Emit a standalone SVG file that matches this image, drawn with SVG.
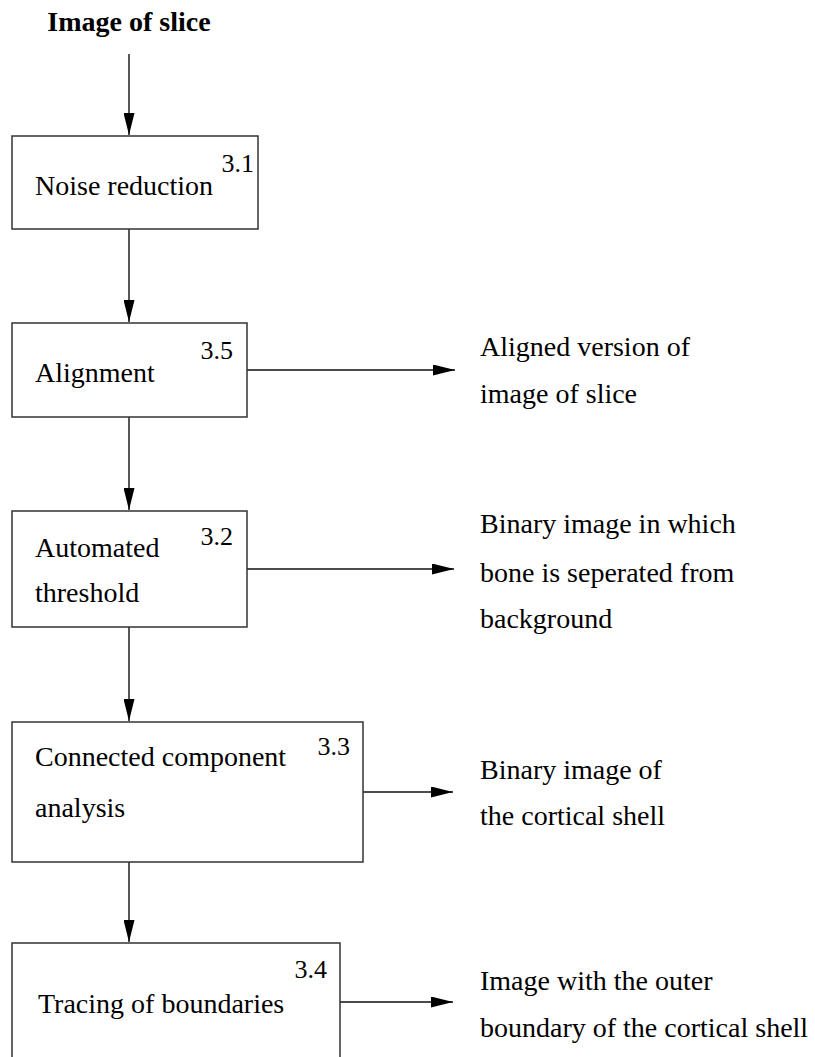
<svg xmlns="http://www.w3.org/2000/svg" width="815" height="1057" viewBox="0 0 815 1057">
  <style>
    .box { fill: #ffffff; stroke: #333333; stroke-width: 1.5; }
    .wire { stroke: #111111; stroke-width: 1.4; fill: none; }
    .lbl { font-family: "Liberation Serif", "Times New Roman", serif; font-size: 28px; fill: #000000; }
    .num { font-family: "Liberation Serif", "Times New Roman", serif; font-size: 26px; fill: #000000; }
    .title { font-family: "Liberation Serif", "Times New Roman", serif; font-size: 28px; font-weight: bold; fill: #000000; }
  </style>
  <defs>
    <marker id="arrow" viewBox="0 0 22 11" refX="22" refY="5.5" markerWidth="22" markerHeight="11" markerUnits="userSpaceOnUse" orient="auto">
      <path d="M0,0 L22,5.5 L0,11 Z" fill="#000000"/>
    </marker>
  </defs>
  <rect width="815" height="1057" fill="#ffffff"/>

  <text class="title" x="129" y="31" text-anchor="middle">Image of slice</text>

  <g id="connectors">
    <line class="wire" x1="129" y1="54" x2="129" y2="135" marker-end="url(#arrow)"/>
    <line class="wire" x1="129" y1="229" x2="129" y2="322" marker-end="url(#arrow)"/>
    <line class="wire" x1="129" y1="417" x2="129" y2="510" marker-end="url(#arrow)"/>
    <line class="wire" x1="129" y1="627" x2="129" y2="721" marker-end="url(#arrow)"/>
    <line class="wire" x1="129" y1="862" x2="129" y2="942" marker-end="url(#arrow)"/>
    <line class="wire" x1="247" y1="370" x2="455" y2="370" marker-end="url(#arrow)"/>
    <line class="wire" x1="247" y1="569" x2="454" y2="569" marker-end="url(#arrow)"/>
    <line class="wire" x1="363" y1="792" x2="453" y2="792" marker-end="url(#arrow)"/>
    <line class="wire" x1="340" y1="1002" x2="453" y2="1002" marker-end="url(#arrow)"/>
  </g>

  <g id="noise-reduction">
    <rect class="box" x="12" y="136" width="246" height="93"/>
    <text class="lbl" x="35" y="195">Noise reduction</text>
    <text class="num" x="254" y="172" text-anchor="end">3.1</text>
  </g>

  <g id="alignment">
    <rect class="box" x="12" y="323" width="235" height="94"/>
    <text class="lbl" x="35" y="382">Alignment</text>
    <text class="num" x="233" y="359" text-anchor="end">3.5</text>
  </g>

  <g id="automated-threshold">
    <rect class="box" x="12" y="511" width="235" height="116"/>
    <text class="lbl" x="35" y="557">Automated</text>
    <text class="lbl" x="35" y="602">threshold</text>
    <text class="num" x="233" y="545" text-anchor="end">3.2</text>
  </g>

  <g id="connected-component">
    <rect class="box" x="12" y="722" width="351" height="140"/>
    <text class="lbl" x="35" y="766">Connected component</text>
    <text class="lbl" x="35" y="817">analysis</text>
    <text class="num" x="350" y="755" text-anchor="end">3.3</text>
  </g>

  <g id="tracing-boundaries">
    <rect class="box" x="12" y="943" width="328" height="130"/>
    <text class="lbl" x="38" y="1013">Tracing of boundaries</text>
    <text class="num" x="327" y="978" text-anchor="end">3.4</text>
  </g>

  <g id="out-aligned">
    <text class="lbl" x="480" y="356">Aligned version of</text>
    <text class="lbl" x="480" y="403">image of slice</text>
  </g>

  <g id="out-binary">
    <text class="lbl" x="480" y="533">Binary image in which</text>
    <text class="lbl" x="480" y="582">bone is seperated from</text>
    <text class="lbl" x="480" y="628">background</text>
  </g>

  <g id="out-shell">
    <text class="lbl" x="480" y="779">Binary image of</text>
    <text class="lbl" x="480" y="825">the cortical shell</text>
  </g>

  <g id="out-boundary">
    <text class="lbl" x="480" y="990">Image with the outer</text>
    <text class="lbl" x="480" y="1037">boundary of the cortical shell</text>
  </g>
</svg>
